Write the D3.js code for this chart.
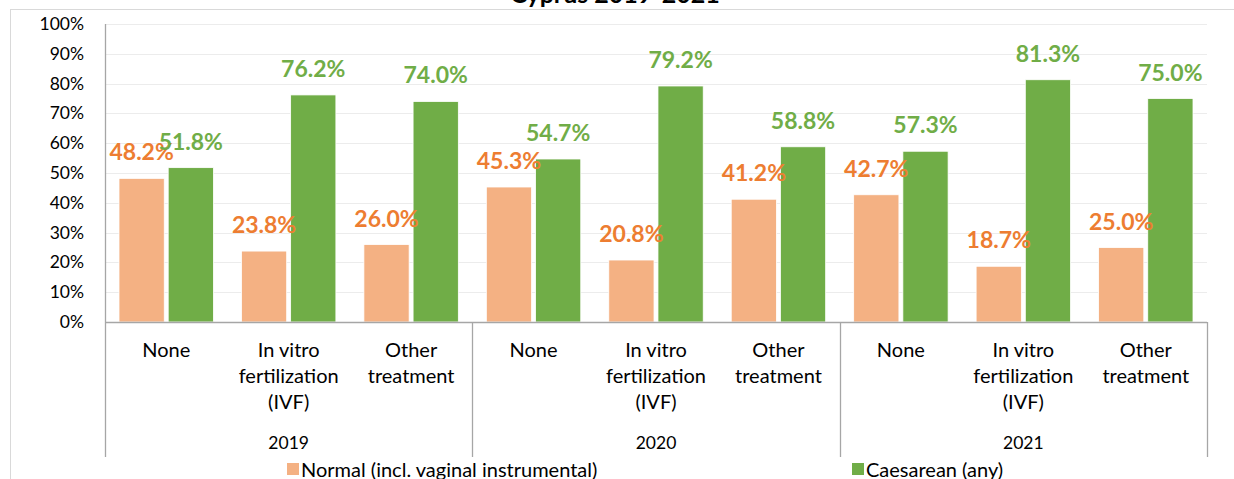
<!doctype html>
<html lang="en">
<head>
    <meta charset="UTF-8">
    <script src="https://cdnjs.cloudflare.com/ajax/libs/d3/7.8.5/d3.min.js"></script>
    <title>Cyprus 2019-2021</title>
    <style>
        body { margin: 0; background: #fff; }
        svg text { font-family: Lato, "Open Sans", sans-serif; }
    </style>
</head>
<body>

<div id="Area"></div>

<script>

    // data
    const years = ["2019", "2020", "2021"];
    const treatments = ["None", "In vitro fertilization (IVF)", "Other treatment"];
    const treatmentLines = [["None"], ["In vitro", "fertilization", "(IVF)"], ["Other", "treatment"]];
    const seriesNames = ["Normal (incl. vaginal instrumental)", "Caesarean (any)"];
    const normal = [48.2, 23.8, 26.0, 45.3, 20.8, 41.2, 42.7, 18.7, 25.0];
    const caesarean = [51.8, 76.2, 74.0, 54.7, 79.2, 58.8, 57.3, 81.3, 75.0];
    const yTicks = [0, 10, 20, 30, 40, 50, 60, 70, 80, 90, 100];

    const barColors = ["#F4B183", "#70AD47"];
    const labelColors = ["#ED7D31", "#70AD47"];

    const width = 1234, height = 479;
    const plot = {left: 105, right: 1207, top: 24, bottom: 322};

    const svg = d3.select("#Area")
        .append("svg")
        .attr("width", width)
        .attr("height", height);

    // chart frame (only top + left edges are visible in the crop)
    svg.append("rect")
        .attr("x", 10.5).attr("y", 9.5)
        .attr("width", 1300).attr("height", 600)
        .attr("fill", "none")
        .attr("stroke", "#d9d9d9");

    // title, mostly cut off at the top
    svg.append("text")
        .attr("x", 615).attr("y", 3)
        .attr("text-anchor", "middle")
        .attr("font-size", 25)
        .attr("font-weight", "bold")
        .attr("fill", "#000")
        .text("Cyprus 2019-2021");

    const y = d3.scaleLinear().domain([0, 100]).range([plot.bottom, plot.top]);

    const xYear = d3.scaleBand().domain(years).range([plot.left, plot.right]);
    const xCat = d3.scaleBand().domain(treatments).range([0, xYear.bandwidth()]);
    const xSeries = d3.scaleBand().domain(seriesNames)
        .range([14, xCat.bandwidth() - 14])
        .paddingInner(0.08);

    // gridlines
    svg.append("g")
        .selectAll("line")
        .data(yTicks.slice(1))
        .join("line")
        .attr("x1", plot.left).attr("x2", plot.right)
        .attr("y1", d => Math.round(y(d)) + 0.5)
        .attr("y2", d => Math.round(y(d)) + 0.5)
        .attr("stroke", "#ececec")
        .attr("stroke-width", 1.2);

    // y axis labels
    svg.append("g")
        .selectAll("text")
        .data(yTicks)
        .join("text")
        .attr("x", 84)
        .attr("y", d => y(d) + 6)
        .attr("text-anchor", "end")
        .attr("font-size", 17.5)
        .attr("fill", "#000")
        .text(d => d + "%");

    // flat rows
    const rows = [];
    years.forEach((yr, i) => {
        treatments.forEach((t, j) => {
            const k = i * 3 + j;
            rows.push({year: yr, cat: t, lines: treatmentLines[j], values: [normal[k], caesarean[k]]});
        });
    });

    const catX = d => xYear(d.year) + xCat(d.cat);

    // bars
    const bars = [];
    rows.forEach(r => {
        seriesNames.forEach((s, si) => bars.push({row: r, s: s, si: si, v: r.values[si]}));
    });

    svg.append("g")
        .selectAll("rect")
        .data(bars)
        .join("rect")
        .attr("x", d => catX(d.row) + xSeries(d.s))
        .attr("y", d => y(d.v))
        .attr("width", xSeries.bandwidth())
        .attr("height", d => y(0) - y(d.v))
        .attr("fill", d => barColors[d.si])
        .attr("stroke", "#fff")
        .attr("stroke-width", 0.8);

    // value labels
    svg.append("g")
        .selectAll("text")
        .data(bars)
        .join("text")
        .attr("x", d => catX(d.row) + xSeries(d.s) + xSeries.bandwidth() / 2)
        .attr("y", d => y(d.v) - 18)
        .attr("text-anchor", "middle")
        .attr("font-size", 23)
        .attr("font-weight", "bold")
        .attr("fill", d => labelColors[d.si])
        .text(d => d.v.toFixed(1) + "%");

    // axes lines
    const axisColor = "#a6a6a6";
    svg.append("line")
        .attr("x1", plot.left).attr("x2", plot.right)
        .attr("y1", plot.bottom + 0.5).attr("y2", plot.bottom + 0.5)
        .attr("stroke", axisColor).attr("stroke-width", 1.3);
    svg.append("line")
        .attr("x1", plot.left + 0.5).attr("x2", plot.left + 0.5)
        .attr("y1", plot.top).attr("y2", 457)
        .attr("stroke", axisColor).attr("stroke-width", 1.3);

    // group separators
    svg.append("g")
        .selectAll("line")
        .data(years.slice(1).map(d => xYear(d)).concat([plot.right]))
        .join("line")
        .attr("x1", d => Math.round(d) + 0.5).attr("x2", d => Math.round(d) + 0.5)
        .attr("y1", plot.bottom).attr("y2", 457)
        .attr("stroke", axisColor).attr("stroke-width", 1.3);

    // category labels
    const catLabels = svg.append("g")
        .selectAll("text")
        .data(rows)
        .join("text")
        .attr("text-anchor", "middle")
        .attr("font-size", 20)
        .attr("fill", "#000");
    catLabels.selectAll("tspan")
        .data(d => d.lines.map(l => ({l: l, x: catX(d) + xCat.bandwidth() / 2})))
        .join("tspan")
        .attr("x", d => d.x)
        .attr("y", (d, i) => 357 + i * 26)
        .text(d => d.l);

    // year labels
    svg.append("g")
        .selectAll("text")
        .data(years)
        .join("text")
        .attr("x", d => xYear(d) + xYear.bandwidth() / 2)
        .attr("y", 449)
        .attr("text-anchor", "middle")
        .attr("font-size", 17.5)
        .attr("fill", "#000")
        .text(d => d);

    // legend
    const legendX = [287, 852];
    const legend = svg.append("g")
        .selectAll("g")
        .data(seriesNames)
        .join("g")
        .attr("transform", (d, i) => "translate(" + legendX[i] + ",0)");
    legend.append("rect")
        .attr("x", 0).attr("y", 463)
        .attr("width", 12).attr("height", 12)
        .attr("fill", (d, i) => barColors[i]);
    legend.append("text")
        .attr("x", 14).attr("y", 477)
        .attr("font-size", 20)
        .attr("fill", "#000")
        .text(d => d);

</script>
</body>
</html>
